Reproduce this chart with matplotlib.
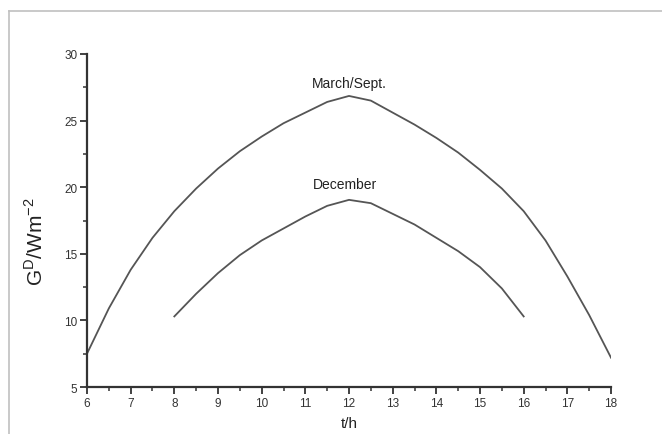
import matplotlib
matplotlib.use("Agg")
import matplotlib.pyplot as plt
from matplotlib.ticker import MultipleLocator
from matplotlib.lines import Line2D

plt.rcParams['font.family'] = ['Liberation Sans', 'DejaVu Sans']
plt.rcParams['mathtext.fontset'] = 'custom'
plt.rcParams['mathtext.rm'] = 'Liberation Sans'

# Data
hours_march = [6, 6.5, 7, 7.5, 8, 8.5, 9, 9.5, 10, 10.5, 11, 11.5, 12,
               12.5, 13, 13.5, 14, 14.5, 15, 15.5, 16, 16.5, 17, 17.5, 18]
g_march = [7.5, 10.9, 13.8, 16.2, 18.2, 19.9, 21.4, 22.7, 23.8, 24.8, 25.6, 26.4, 26.85,
           26.5, 25.6, 24.7, 23.7, 22.6, 21.3, 19.9, 18.2, 16.0, 13.3, 10.4, 7.2]
hours_dec = [8, 8.5, 9, 9.5, 10, 10.5, 11, 11.5, 12, 12.5, 13, 13.5, 14, 14.5, 15, 15.5, 16]
g_dec = [10.3, 12.0, 13.55, 14.9, 16.0, 16.9, 17.8, 18.6, 19.05, 18.8, 18.0, 17.2, 16.2,
         15.2, 14.0, 12.4, 10.3]
xticks = list(range(6, 19))
yticks = [5, 10, 15, 20, 25, 30]

fig = plt.figure(figsize=(6.62, 4.35), dpi=100)
ax = fig.add_axes([0.1314, 0.108, 0.923 - 0.1314, 0.8736 - 0.108])

curve_color = '#555555'
ax.plot(hours_march, g_march, color=curve_color, lw=1.3)
ax.plot(hours_dec, g_dec, color=curve_color, lw=1.3)

ax.text(12.0, 27.3, 'March/Sept.', ha='center', va='bottom', fontsize=10, color='#222222')
ax.text(11.9, 19.7, 'December', ha='center', va='bottom', fontsize=10, color='#222222')

ax.set_xlim(6, 18)
ax.set_ylim(5, 30)
ax.set_xticks(xticks)
ax.set_yticks(yticks)
ax.xaxis.set_minor_locator(MultipleLocator(0.5))
ax.yaxis.set_minor_locator(MultipleLocator(2.5))

for s in ['top', 'right']:
    ax.spines[s].set_visible(False)
for s in ['left', 'bottom']:
    ax.spines[s].set_linewidth(1.6)
    ax.spines[s].set_color('#333333')

ax.tick_params(which='major', direction='out', length=5, width=1.3, color='#333333',
               labelsize=8.5, labelcolor='#333333', pad=2)
ax.tick_params(which='minor', direction='out', length=3, width=1.1, color='#333333')

ax.set_ylabel('G$^{\\mathrm{D}}$/Wm$^{-2}$', fontsize=15, color='#222222')
ax.yaxis.set_label_coords(-0.076, 0.44)
ax.set_xlabel('t/h', fontsize=11, color='#222222', labelpad=5)

# gray frame lines (left and top)
fig.add_artist(Line2D([9 / 662, 9 / 662], [0, 1 - 12 / 435], color='#c0c0c0', lw=1.2,
                      transform=fig.transFigure))
fig.add_artist(Line2D([9 / 662, 1], [1 - 12 / 435, 1 - 12 / 435], color='#c0c0c0', lw=1.2,
                      transform=fig.transFigure))

fig.savefig('out.png', dpi=100)
